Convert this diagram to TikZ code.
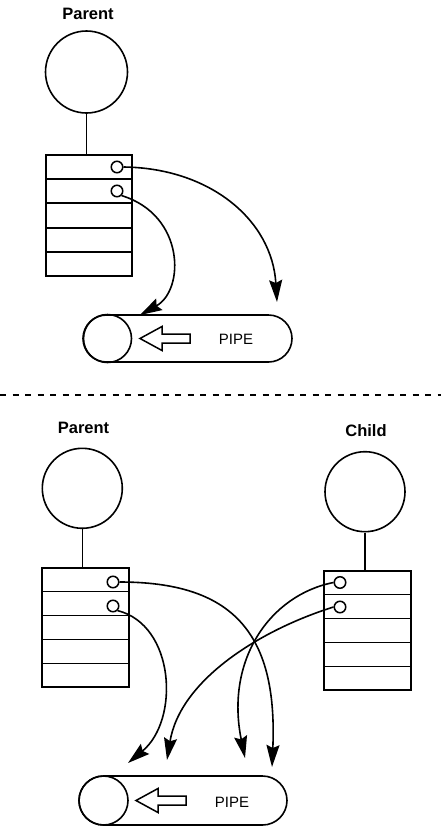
\documentclass[tikz,border=0pt]{standalone}
\usepackage{fontspec}
\setmainfont{Liberation Sans}
\usetikzlibrary{arrows.meta,shapes.misc,calc}
\begin{document}
\begin{tikzpicture}[x=1pt,y=-1pt,
  line width=1.6pt,
  proc/.style={circle,draw,minimum size=80pt,inner sep=0pt},
  fd/.style={circle,draw,minimum size=11.5pt,inner sep=0pt,line width=1.5pt},
  tbl/.style={rectangle,draw,minimum width=87pt,minimum height=119pt,inner sep=0pt},
  lbl/.style={font=\bfseries\fontsize{16.5}{19}\selectfont,inner sep=0pt},
  pipebody/.style={rounded rectangle,draw,minimum height=48pt,inner sep=0pt},
  pipeend/.style={circle,draw,minimum size=48pt,inner sep=0pt},
  pipetxt/.style={font=\fontsize{15}{17}\selectfont,inner sep=0pt},
  link/.style={-{Stealth[length=22pt,width=13pt,inset=3pt]}},
  hollow/.style={line width=1.5pt,line join=miter},
  sep/.style={dash pattern=on 6pt off 6.5pt,line width=1.4pt},
]
\useasboundingbox (0,0) rectangle (441,828);

% ---------- top part ----------
\node[lbl] (parentA) at (88,14) {Parent};
\node[proc,minimum size=82pt] (procA) at (86.5,72) {};
\node[tbl,minimum width=86pt,minimum height=121pt] (tabA) at (89,215.5) {};
\foreach \k in {1,...,4}
  \draw ($(tabA.north west)!\k/5!(tabA.south west)$) -- ($(tabA.north east)!\k/5!(tabA.south east)$);
\draw (procA.south) -- (procA.south |- tabA.north);
\node[fd] (a1) at (117,167) {};
\node[fd] (a2) at (117,191) {};

\node[pipebody,minimum width=209pt,minimum height=47pt] (pipeA) at (187.5,338.5) {};
\node[pipeend,minimum size=48pt] (endA) at (107.5,338.5) {};
\draw[hollow] (140,338.5) -- (162,326.5) -- (162,334) -- (190,334) -- (190,343) -- (162,343) -- (162,350.5) -- cycle;
\node[pipetxt] (pipeAtxt) at (236,339) {PIPE};

\coordinate (ta1) at (277,302);
\coordinate (ta2) at (140,315);
\draw[link] (a1.east) .. controls (210,168) and (272,220) .. (ta1);
\draw[link] (a2.south east) .. controls (185,215) and (185,290) .. (ta2);

% ---------- separator ----------
\coordinate (dl) at (0,395);
\coordinate (dr) at (441,395);
\draw[sep] (dl) -- (dr);

% ---------- bottom part ----------
\node[lbl] (parentB) at (83.5,428) {Parent};
\node[lbl] (childB) at (366,431) {Child};
\node[proc] (procB) at (82.3,488.3) {};
\node[proc] (procC) at (365,491.7) {};
\node[tbl] (tabB) at (85.5,627.5) {};
\node[tbl] (tabC) at (367.5,630.5) {};
\foreach \t in {tabB,tabC}
  \foreach \k in {1,...,4}
    \draw ($(\t.north west)!\k/5!(\t.south west)$) -- ($(\t.north east)!\k/5!(\t.south east)$);
\draw (procB.south) -- (procB.south |- tabB.north);
\draw (procC.south) -- (procC.south |- tabC.north);
\node[fd] (b1) at (113,582) {};
\node[fd] (b2) at (113,606) {};
\node[fd] (c1) at (340,582.5) {};
\node[fd] (c2) at (340,607) {};

\node[pipebody,minimum width=208pt,minimum height=49pt] (pipeB) at (183,800.5) {};
\node[pipeend,minimum size=49pt] (endB) at (103.5,800.5) {};
\draw[hollow] (136,800.5) -- (158,788.5) -- (158,796) -- (186,796) -- (186,805) -- (158,805) -- (158,812.5) -- cycle;
\node[pipetxt] (pipeBtxt) at (232,802) {PIPE};

\coordinate (tA) at (128,763);
\coordinate (tB) at (167,760);
\coordinate (tC) at (245,758);
\coordinate (tD) at (272,767);
\draw[link] (b1.east) .. controls (230,582) and (278,630) .. (tD);
\draw[link] (b2.south east) .. controls (175,625) and (180,720) .. (tA);
\draw[link] (c1.west) .. controls (270,595) and (225,660) .. (tC);
\draw[link] (c2.west) .. controls (260,630) and (180,680) .. (tB);
\end{tikzpicture}
\end{document}
